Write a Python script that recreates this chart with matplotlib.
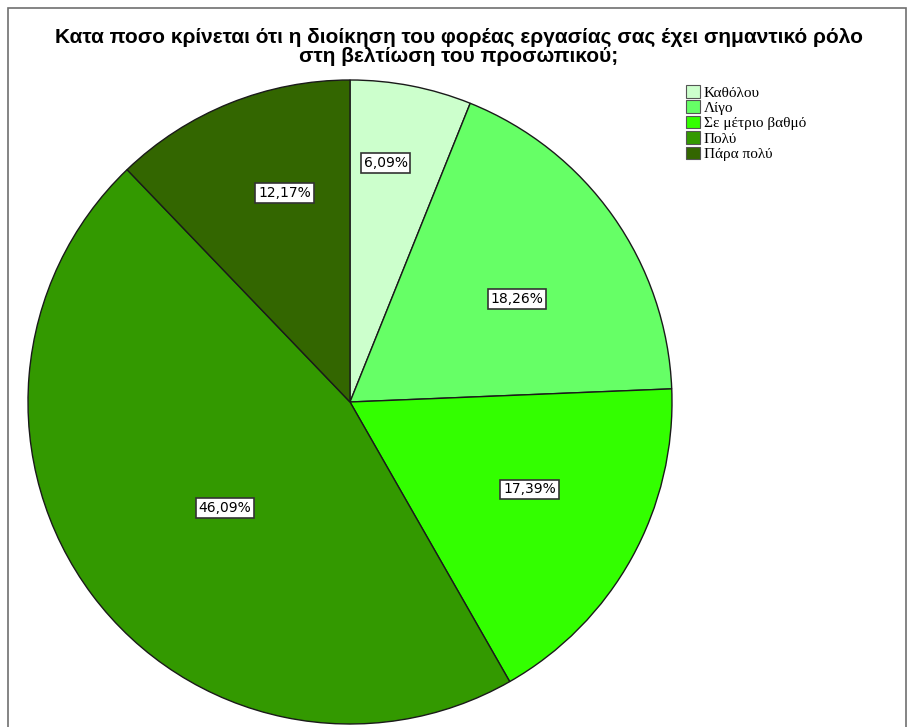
import matplotlib.pyplot as plt
import matplotlib.patches as mpatches
import numpy as np

# data
categories = ["Καθόλου", "Λίγο", "Σε μέτριο βαθμό", "Πολύ", "Πάρα πολύ"]
percents = [6.09, 18.26, 17.39, 46.09, 12.17]
colors = ["#ccffcc", "#66ff66", "#33ff00", "#339900", "#336600"]
title = "Κατα ποσο κρίνεται ότι η διοίκηση του φορέας εργασίας σας έχει σημαντικό ρόλο\nστη βελτίωση του προσωπικού;"

# placement of each percentage box: fraction of radius, angle nudge in degrees
label_r = [0.75, 0.61, 0.62, 0.51, 0.68]
label_turn = [2.5, -3.5, 3.0, 3.5, -4.5]

W, H = 908, 727
fig = plt.figure(figsize=(W / 100, H / 100), dpi=100)

# gray frame around the chart
fig.patches.append(mpatches.Rectangle((8 / W, -0.01), 898 / W, 1 - 8 / H + 0.01,
                                      transform=fig.transFigure, fill=False,
                                      edgecolor="#707070", linewidth=1.2))

fig.text(459 / W, 1 - 47 / H, title, ha="center", va="center",
         fontsize=15, fontweight="bold", family="Liberation Sans", linespacing=1.02)

cx, cy, r = 350, 402, 322
ax = fig.add_axes([(cx - r) / W, (H - cy - r) / H, 2 * r / W, 2 * r / H])
wedges, _ = ax.pie(percents, colors=colors, startangle=90, counterclock=False,
                   wedgeprops=dict(edgecolor="#1a1a1a", linewidth=1.0))
ax.set_xlim(-1, 1)
ax.set_ylim(-1, 1)
ax.set_aspect("equal")
ax.axis("off")

for w, p, lr, turn in zip(wedges, percents, label_r, label_turn):
    mid = np.deg2rad((w.theta1 + w.theta2) / 2 + turn)
    ax.text(lr * np.cos(mid), lr * np.sin(mid), f"{p:.2f}%".replace(".", ","),
            ha="center", va="center", fontsize=10, family="DejaVu Sans",
            bbox=dict(boxstyle="square,pad=0.2", facecolor="white",
                      edgecolor="#333333", linewidth=1.2))

handles = [mpatches.Patch(facecolor=c, edgecolor="#555555", linewidth=0.8) for c in colors]
fig.legend(handles, categories, loc="upper left", bbox_to_anchor=(686 / W, 1 - 85 / H),
           frameon=False, prop=dict(family="Liberation Serif", size=11),
           handlelength=0.9, handleheight=0.9, handletextpad=0.25,
           labelspacing=0.05, borderaxespad=0, borderpad=0)

fig.savefig("out.png", dpi=100)
